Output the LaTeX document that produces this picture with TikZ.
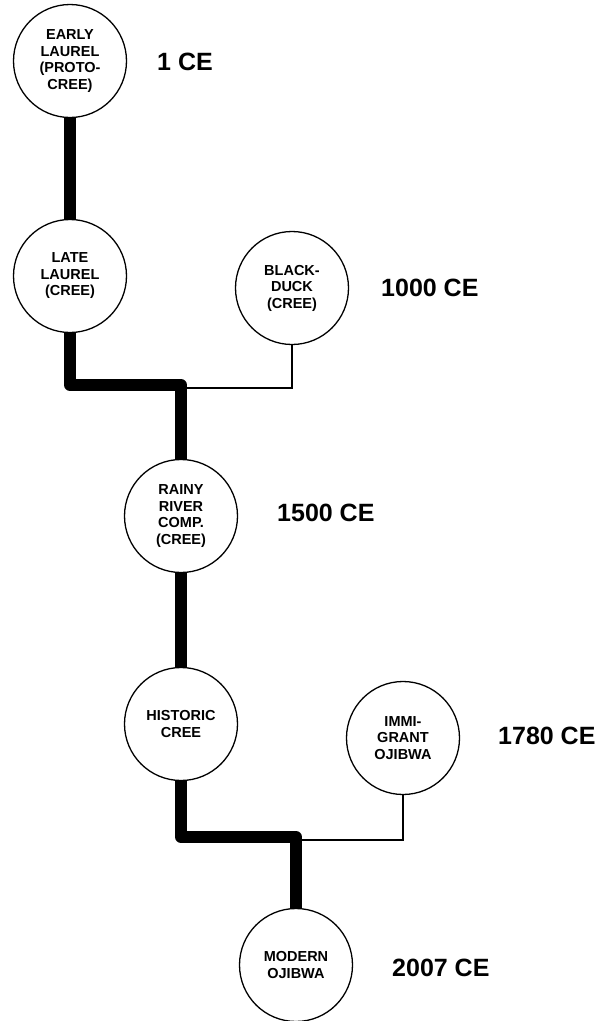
\documentclass[tikz,border=0pt]{standalone}
\usepackage{fontspec}
\setmainfont{Liberation Sans}
\usepackage{tikz}
\usetikzlibrary{positioning}

\begin{document}
\begin{tikzpicture}[
  x=1pt, y=-1pt,
  site/.style={circle, draw=black, line width=1.3pt, fill=white, inner sep=0pt, minimum size=113pt, align=center, font=\fontsize{14.5}{16.5}\selectfont\bfseries},
  date/.style={anchor=west, inner sep=0pt, font=\fontsize{25}{30}\selectfont\bfseries},
  trunk/.style={line width=12pt, line join=round, draw=black},
  branch/.style={line width=1.5pt, draw=black}
]
\useasboundingbox (0,0) rectangle (600,1021);

% sites
\node[site] (early) at (70,61) {EARLY\\LAUREL\\(PROTO-\\CREE)};
\node[site] (late) at (70,276) {LATE\\LAUREL\\(CREE)};
\node[site] (black) at (292,288) {BLACK-\\DUCK\\(CREE)};
\node[site] (rainy) at (181,516) {RAINY\\RIVER\\COMP.\\(CREE)};
\node[site] (historic) at (181,724) {HISTORIC\\CREE};
\node[site] (immi) at (403,738) {IMMI-\\GRANT\\OJIBWA};
\node[site] (modern) at (296,965) {MODERN\\OJIBWA};

% dates
\node[date] (d1) at (157,62) {1 CE};
\node[date] (d1000) at (381,288) {1000 CE};
\node[date] (d1500) at (277,513) {1500 CE};
\node[date] (d1780) at (498,736) {1780 CE};
\node[date] (d2007) at (392,968) {2007 CE};

% junctions
\coordinate (j1) at (181,385);
\coordinate (j2) at (296,837);

% lineage
\draw[trunk] (early.south) -- (late.north);
\draw[trunk] (late.south) |- (j1) -- (rainy.north);
\draw[branch] (black.south) |- ([yshift=-3pt]j1);
\draw[trunk] (rainy.south) -- (historic.north);
\draw[trunk] (historic.south) |- (j2) -- (modern.north);
\draw[branch] (immi.south) |- ([yshift=-3pt]j2);
\end{tikzpicture}
\end{document}
